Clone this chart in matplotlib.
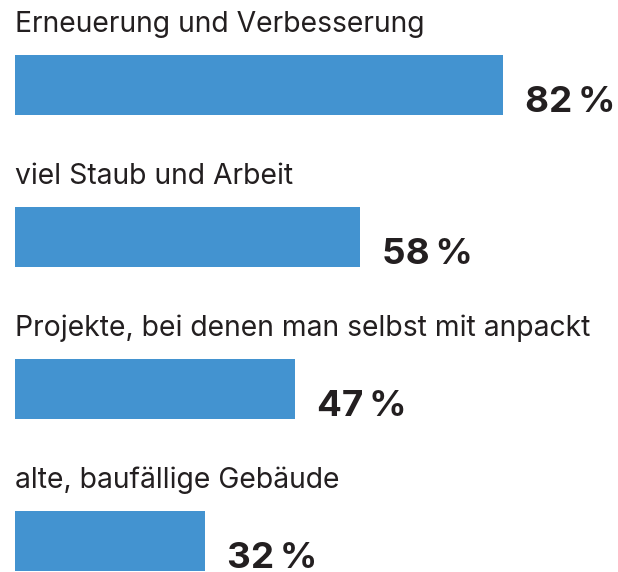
import matplotlib
matplotlib.use('Agg')
import matplotlib.pyplot as plt

# Data
labels = ['Erneuerung und Verbesserung', 'viel Staub und Arbeit',
          'Projekte, bei denen man selbst mit anpackt', 'alte, baufällige Gebäude']
values = [82, 58, 47, 32]

W, H = 618, 572
fig = plt.figure(figsize=(W / 100, H / 100), dpi=100)
ax = fig.add_axes([15 / W, 0, 595 / W, 1])
ax.set_xlim(0, 100)
ax.set_ylim(H, 0)
ax.axis('off')

centers = [85 + 152 * i for i in range(len(values))]
bar_h = 60
ax.barh(centers, values, height=bar_h, color='#4393d0', edgecolor='none')

px = 100 / 595  # percent per pixel
for c, lab, v in zip(centers, labels, values):
    ax.text(0, c - bar_h / 2 - 23, lab, fontsize=20.4, family='Inter',
            color='#231f20', va='baseline', ha='left')
    ax.text(v + 22 * px, c + bar_h / 2 - 3, f'{v}\u2009%', fontsize=26.5,
            family='Inter', fontweight='bold', color='#231f20',
            va='baseline', ha='left')

fig.savefig('out.png', dpi=100)
